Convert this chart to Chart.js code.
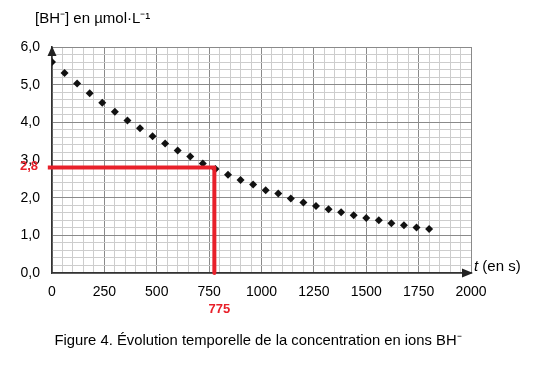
<!DOCTYPE html>
<html>
<head>
<meta charset="utf-8">
<script src="https://cdn.jsdelivr.net/npm/chart.js@4/dist/chart.umd.min.js"></script>
<style>
  html, body { margin: 0; padding: 0; background: #fff; }
  #wrap { width: 539px; height: 367px; position: relative; }
</style>
</head>
<body>
<div id="wrap"><canvas id="graph"></canvas></div>
<script>
// data
let times = [0, 60, 120, 180, 240, 300, 360, 420, 480, 540, 600, 660, 720, 780, 840, 900,
  960, 1020, 1080, 1140, 1200, 1260, 1320, 1380, 1440, 1500, 1560, 1620, 1680, 1740, 1800];
let conc = [5.60, 5.31, 5.03, 4.77, 4.52, 4.28, 4.05, 3.84, 3.63, 3.44, 3.25, 3.09, 2.91, 2.76, 2.61, 2.47,
  2.35, 2.20, 2.11, 1.98, 1.87, 1.78, 1.69, 1.61, 1.53, 1.46, 1.40, 1.32, 1.27, 1.21, 1.17];
let readX = [-20, 775, 775];     // red construction line
let readY = [2.8, 2.8, 0];
let xTickLabels = [0, 250, 500, 750, 1000, 1250, 1500, 1750, 2000];
let yTickLabels = [0, 1, 2, 3, 4, 5, 6];

let font = "'Liberation Sans', Arial, sans-serif";

let points = times.map(function(t, i) { return {x: t, y: conc[i]}; });
let redLine = readX.map(function(x, i) { return {x: x, y: readY[i]}; });

// extra drawing: arrows, axis titles, red labels, caption
let extras = {
  id: 'extras',
  afterDraw: function(chart) {
    let c = chart.ctx;
    let xs = chart.scales.x, ys = chart.scales.y;
    let x0 = xs.getPixelForValue(0), y0 = ys.getPixelForValue(0);
    let xEnd = xs.getPixelForValue(2000), yTop = ys.getPixelForValue(6);
    c.save();
    c.fillStyle = '#222';
    // arrow up
    c.beginPath();
    c.moveTo(x0, yTop - 1);
    c.lineTo(x0 - 4.5, yTop + 9);
    c.lineTo(x0 + 4.5, yTop + 9);
    c.closePath();
    c.fill();
    // arrow right
    c.beginPath();
    c.moveTo(xEnd + 2, y0);
    c.lineTo(xEnd - 9, y0 - 4.5);
    c.lineTo(xEnd - 9, y0 + 4.5);
    c.closePath();
    c.fill();

    c.fillStyle = '#000';
    c.textBaseline = 'middle';
    c.textAlign = 'left';
    c.font = '15px ' + font;
    c.fillText('[BH\u207B] en \u00B5mol\u00B7L\u207B\u00B9', 35, 19);
    c.font = 'italic 15px ' + font;
    c.fillText('t', xEnd + 3, y0 - 6);
    let tw = c.measureText('t ').width;
    c.font = '15px ' + font;
    c.fillText('(en s)', xEnd + 3 + tw, y0 - 6);

    c.font = '14.8px ' + font;
    c.textAlign = 'center';
    c.fillText('Figure 4. \u00C9volution temporelle de la concentration en ions BH\u207B', 258, 341);

    c.fillStyle = '#e8202a';
    c.font = 'bold 13px ' + font;
    c.textAlign = 'right';
    c.fillText('2,8', 38, ys.getPixelForValue(2.8) - 1);
    c.textAlign = 'center';
    c.fillText('775', xs.getPixelForValue(775) + 5, y0 + 36);
    c.restore();
  }
};

let ctx = document.getElementById('graph').getContext('2d');
let chart = new Chart(ctx, {
  type: 'scatter',
  data: {
    datasets: [{
      label: 'lecture',
      data: redLine,
      showLine: true,
      borderColor: '#e8202a',
      borderWidth: 4,
      borderJoinStyle: 'round',
      pointRadius: 0,
      clip: false,
      order: 1
    }, {
      label: '[BH-]',
      data: points,
      pointStyle: 'rectRot',
      pointRadius: 4,
      backgroundColor: '#111',
      borderColor: '#111',
      borderWidth: 0,
      order: 2
    }]
  },
  options: {
    responsive: true,
    maintainAspectRatio: false,
    animation: false,
    layout: { padding: { left: 0, top: 47, right: 68, bottom: 0 } },
    plugins: { legend: { display: false }, tooltip: { enabled: false } },
    scales: {
      x: {
        type: 'linear',
        min: 0, max: 2000,
        afterFit: function(s) { s.height = 94; },
        afterBuildTicks: function(s) {
          let t = [];
          for (let v = 0; v <= 2000; v += 50) t.push({value: v});
          s.ticks = t;
        },
        ticks: {
          autoSkip: false, maxRotation: 0, padding: 11,
          color: '#000', font: { family: font, size: 14 },
          callback: function(v) { return xTickLabels.indexOf(v) >= 0 ? String(v) : ''; }
        },
        grid: {
          drawTicks: false,
          lineWidth: 1,
          color: function(c) { return c.tick && c.tick.value % 250 === 0 ? '#8a8a8a' : '#cdcdcd'; }
        },
        border: { color: '#333', width: 1.5 }
      },
      y: {
        type: 'linear',
        min: 0, max: 6,
        afterFit: function(s) { s.width = 52; },
        afterBuildTicks: function(s) {
          let t = [];
          for (let i = 0; i <= 30; i++) t.push({value: i / 5});
          s.ticks = t;
        },
        ticks: {
          autoSkip: false, padding: 12,
          color: '#000', font: { family: font, size: 14 },
          callback: function(v) {
            let r = Math.round(v);
            if (Math.abs(v - r) < 1e-6 && yTickLabels.indexOf(r) >= 0) return r.toFixed(1).replace('.', ',');
            return '';
          }
        },
        grid: {
          drawTicks: false,
          lineWidth: 1,
          color: function(c) {
            let v = c.tick ? c.tick.value : 0;
            return Math.abs(v - Math.round(v)) < 1e-6 ? '#8a8a8a' : '#cdcdcd';
          }
        },
        border: { color: '#333', width: 1.5 }
      }
    }
  },
  plugins: [extras]
});
</script>
</body>
</html>
